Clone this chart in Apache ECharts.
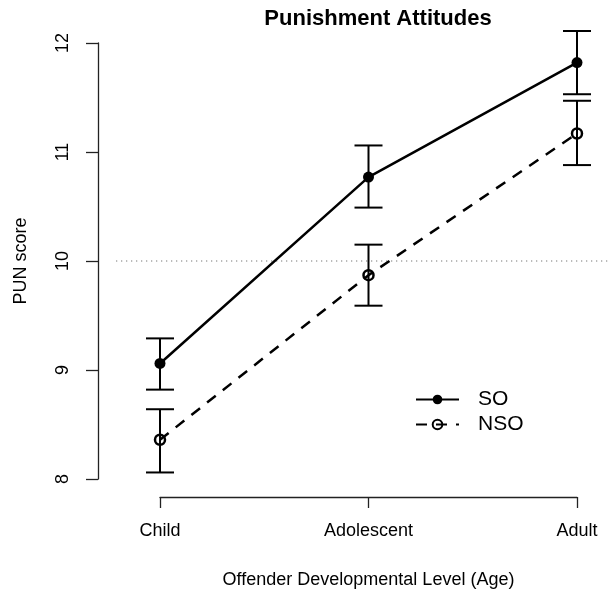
<!DOCTYPE html>
<html>
<head>
<meta charset="utf-8">
<script src="https://cdn.jsdelivr.net/npm/echarts@6/dist/echarts.min.js"></script>
<style>
html,body{margin:0;padding:0;background:#fff;}
#chart{width:612px;height:591px;}
</style>
</head>
<body>
<div id="chart"></div>
<script>
// ---- data ----
const categories = ['Child', 'Adolescent', 'Adult'];
const categoryPos = [1, 2, 3];
const soMean = [9.06, 10.77, 11.82];
const soLow  = [8.82, 10.49, 11.53];
const soHigh = [9.29, 11.06, 12.11];
const nsoMean = [8.36, 9.87, 11.17];
const nsoLow  = [8.06, 9.59, 10.88];
const nsoHigh = [8.64, 10.15, 11.47];
const yTicks = [8, 9, 10, 11, 12];
const refLevel = 10;
const refSpan = [0.79, 3.16];

// ---- build ----
const FONT = "'Liberation Sans', Arial, Helvetica, sans-serif";
const pts = (arr) => arr.map((v, i) => [categoryPos[i], v]);
const bars = (lo, hi) => lo.map((v, i) => [categoryPos[i], v, hi[i]]);

function errRender(params, api) {
  const x = api.value(0);
  const pLo = api.coord([x, api.value(1)]);
  const pHi = api.coord([x, api.value(2)]);
  const w = 14;
  const st = { stroke: '#000', lineWidth: 2 };
  return {
    type: 'group',
    children: [
      { type: 'line', shape: { x1: pLo[0], y1: pLo[1], x2: pHi[0], y2: pHi[1] }, style: st },
      { type: 'line', shape: { x1: pHi[0] - w, y1: pHi[1], x2: pHi[0] + w, y2: pHi[1] }, style: st },
      { type: 'line', shape: { x1: pLo[0] - w, y1: pLo[1], x2: pLo[0] + w, y2: pLo[1] }, style: st }
    ]
  };
}

function refRender(params, api) {
  const y = api.value(2);
  const p0 = api.coord([api.value(0), y]);
  const p1 = api.coord([api.value(1), y]);
  return {
    type: 'line',
    shape: { x1: p0[0], y1: p0[1], x2: p1[0], y2: p1[1] },
    style: { stroke: '#555', lineWidth: 1, lineDash: [1, 4] }
  };
}

const chart = echarts.init(document.getElementById('chart'), null, { renderer: 'canvas' });
chart.setOption({
  animation: false,
  backgroundColor: '#fff',
  textStyle: { fontFamily: FONT, color: '#000' },
  title: {
    text: 'Punishment Attitudes',
    left: 373,
    textAlign: 'center',
    top: 3,
    textStyle: { fontFamily: FONT, fontSize: 22, fontWeight: 'bold', color: '#000' }
  },
  legend: {
    orient: 'vertical',
    left: 415,
    top: 389,
    padding: 0,
    itemWidth: 43,
    itemHeight: 12,
    itemGap: 4,
    data: ['SO', 'NSO'],
    textStyle: { fontFamily: FONT, fontSize: 21, color: '#000', padding: [0, 0, 0, 14] }
  },
  grid: { left: 160, right: 35, top: 43, bottom: 112, containLabel: false, outerBoundsMode: 'none' },
  xAxis: {
    type: 'value',
    min: 1, max: 3, interval: 1,
    offset: 18,
    name: 'Offender Developmental Level (Age)',
    nameLocation: 'middle',
    nameGap: 74,
    nameTextStyle: { fontFamily: FONT, fontSize: 18, color: '#000' },
    axisLine: { show: true, lineStyle: { color: '#222', width: 1.3 } },
    axisTick: { show: true, length: 11, lineStyle: { color: '#222', width: 1.3 } },
    axisLabel: {
      margin: 25,
      fontFamily: FONT, fontSize: 18, color: '#000',
      formatter: (v) => categories[categoryPos.indexOf(v)] || ''
    },
    splitLine: { show: false }
  },
  yAxis: {
    type: 'value',
    min: yTicks[0], max: yTicks[yTicks.length - 1], interval: 1,
    offset: 62,
    name: 'PUN score',
    nameLocation: 'middle',
    nameRotate: 90,
    nameGap: 68,
    nameTextStyle: { fontFamily: FONT, fontSize: 18, color: '#000' },
    axisLine: { show: true, lineStyle: { color: '#222', width: 1.3 } },
    axisTick: { show: true, length: 12, lineStyle: { color: '#222', width: 1.3 } },
    axisLabel: { rotate: 90, margin: 26, fontFamily: FONT, fontSize: 18, color: '#000' },
    splitLine: { show: false }
  },
  series: [
    {
      name: 'ref', type: 'custom', clip: false, silent: true,
      data: [[refSpan[0], refSpan[1], refLevel]],
      encode: { x: [0, 1], y: 2 },
      renderItem: refRender,
      z: 1
    },
    {
      name: 'SOerr', type: 'custom', clip: false, silent: true,
      data: bars(soLow, soHigh), encode: { x: 0, y: [1, 2] },
      renderItem: errRender, z: 2
    },
    {
      name: 'NSOerr', type: 'custom', clip: false, silent: true,
      data: bars(nsoLow, nsoHigh), encode: { x: 0, y: [1, 2] },
      renderItem: errRender, z: 2
    },
    {
      name: 'SO', type: 'line', clip: false,
      data: pts(soMean),
      symbol: 'circle', symbolSize: 11, showAllSymbol: true,
      lineStyle: { color: '#000', width: 2.5, type: 'solid' },
      itemStyle: { color: '#000', borderWidth: 0 },
      emphasis: { disabled: true },
      z: 3
    },
    {
      name: 'NSO', type: 'line', clip: false,
      data: pts(nsoMean),
      symbol: 'circle', symbolSize: 10, showAllSymbol: true,
      lineStyle: { color: '#000', width: 2.5, type: [11, 9] },
      itemStyle: { color: 'rgba(255,255,255,0)', borderColor: '#000', borderWidth: 2.5 },
      emphasis: { disabled: true },
      z: 3
    }
  ]
});
</script>
</body>
</html>
